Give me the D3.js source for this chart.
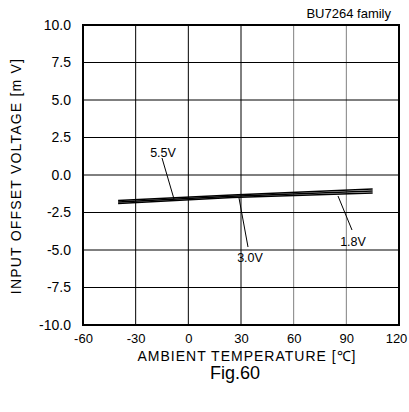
<!DOCTYPE html>
<html><head><meta charset="utf-8">
<script src="https://cdn.jsdelivr.net/npm/d3@7"></script>
<style>body{margin:0;background:#fff;} text{font-family:Arial,"Liberation Sans",sans-serif;fill:#000;}</style>
</head><body><svg id="c" width="409" height="412"></svg>
<script>
const xTicks = [-60,-30,0,30,60,90,120];
const yTicks = [10.0,7.5,5.0,2.5,0.0,-2.5,-5.0,-7.5,-10.0];
const temps = [-40,25,105];
const v18 = [-1.70,-1.33,-0.93];
const v30 = [-1.80,-1.42,-1.07];
const v55 = [-1.90,-1.50,-1.20];
const seriesNames = ["1.8V","3.0V","5.5V"];

const svg = d3.select("#c");
const L=83,R=399,T=25,B=325;
const x = d3.scaleLinear().domain([-60,120]).range([L,R]);
const y = d3.scaleLinear().domain([-10,10]).range([B,T]);
const hy = s => s.replace(/\u2212/g,"-");

// grid
const gridColor = v => (v===60||v===90)?"#808080":"#000";
svg.append("g").selectAll("line").data(xTicks.slice(1,-1)).join("line")
  .attr("x1",d=>x(d)).attr("x2",d=>x(d)).attr("y1",T).attr("y2",B)
  .attr("stroke",d=>gridColor(d)).attr("stroke-width",1);
svg.append("g").selectAll("line").data(yTicks.slice(1,-1)).join("line")
  .attr("x1",L).attr("x2",R).attr("y1",d=>y(d)).attr("y2",d=>y(d))
  .attr("stroke","#000").attr("stroke-width",1);
svg.append("rect").attr("x",L).attr("y",T).attr("width",R-L).attr("height",B-T)
  .attr("fill","none").attr("stroke","#000").attr("stroke-width",2);

// axes labels
const xa = svg.append("g").attr("transform",`translate(0,${B})`)
  .call(d3.axisBottom(x).tickValues(xTicks).tickSize(0).tickPadding(9).tickFormat(d=>hy(d3.format("d")(d))));
xa.select(".domain").remove();
xa.selectAll("text").attr("font-size",13).style("font-family","Arial,'Liberation Sans',sans-serif")
  .attr("dx",d=>d===120?-3:0);
const ya = svg.append("g").attr("transform",`translate(${L},0)`)
  .call(d3.axisLeft(y).tickValues(yTicks).tickSize(0).tickPadding(12).tickFormat(d=>hy(d3.format(".1f")(d))));
ya.select(".domain").remove();
ya.selectAll("text").attr("font-size",14).style("font-family","Arial,'Liberation Sans',sans-serif");

// data lines
const line = d3.line().x((d,i)=>x(temps[i])).y(d=>y(d));
[v18,v30,v55].forEach(s=>{
  svg.append("path").attr("d",line(s)).attr("fill","none").attr("stroke","#000").attr("stroke-width",1.6);
});

// annotations
const ann = [
  {t:"5.5V", tx:163, ty:157, x1:162, y1:158, x2:174, y2:199},
  {t:"3.0V", tx:250, ty:262, x1:239, y1:198, x2:248, y2:247},
  {t:"1.8V", tx:353, ty:246, x1:338, y1:196, x2:352, y2:230}
];
ann.forEach(a=>{
  svg.append("line").attr("x1",a.x1).attr("y1",a.y1).attr("x2",a.x2).attr("y2",a.y2).attr("stroke","#000").attr("stroke-width",1);
  svg.append("text").attr("x",a.tx).attr("y",a.ty).attr("text-anchor","middle").attr("font-size",12.5).text(a.t);
});

svg.append("text").attr("x",391).attr("y",18).attr("text-anchor","end").attr("font-size",13).text("BU7264 family");
svg.append("text").attr("x",247).attr("y",361).attr("text-anchor","middle").attr("font-size",14).attr("letter-spacing",1).text("AMBIENT TEMPERATURE [℃]");
svg.append("text").attr("x",235).attr("y",379).attr("text-anchor","middle").attr("font-size",18).text("Fig.60");
svg.append("text").attr("transform","translate(21,176) rotate(-90)").attr("text-anchor","middle").attr("font-size",14).attr("letter-spacing",1.2).text("INPUT OFFSET VOLTAGE [m V]");
</script></body></html>
